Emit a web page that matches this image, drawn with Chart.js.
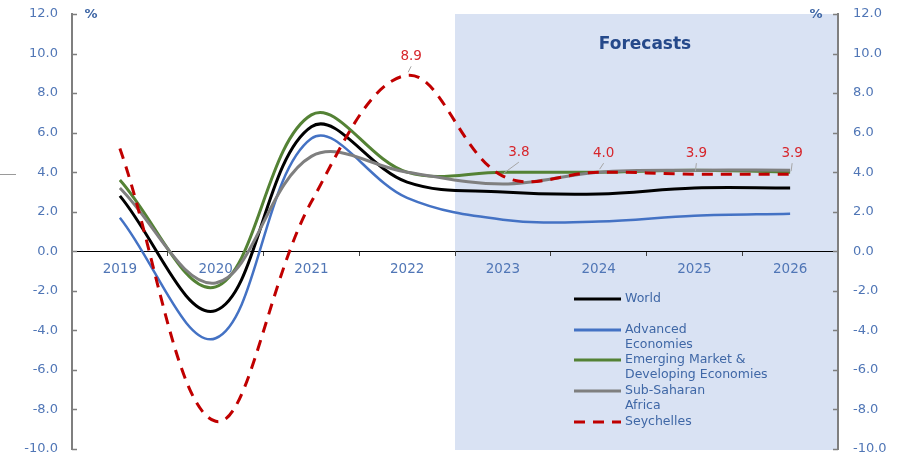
<!DOCTYPE html>
<html>
<head>
<meta charset="utf-8">
<script src="https://cdn.jsdelivr.net/npm/chart.js@4/dist/chart.umd.min.js"></script>
<style>
  html, body { margin: 0; padding: 0; background: #fff; }
</style>
</head>
<body>
<canvas id="myChart" width="907" height="459"></canvas>
<script>
const years = ['2019', '2020', '2021', '2022', '2023', '2024', '2025', '2026'];
const world = [2.8, -3.0, 6.3, 3.5, 3.0, 2.9, 3.2, 3.2];
const advanced = [1.7, -4.4, 5.7, 2.7, 1.6, 1.5, 1.8, 1.9];
const emerging = [3.6, -1.8, 6.9, 4.0, 4.0, 4.0, 4.1, 4.0];
const ssa = [3.2, -1.6, 4.8, 4.0, 3.4, 4.0, 4.1, 4.1];
const seychelles = [5.2, -8.6, 2.5, 8.9, 3.8, 4.0, 3.9, 3.9];
const yTicks = [-10, -8, -6, -4, -2, 0, 2, 4, 6, 8, 10, 12];
const forecastFrom = '2023';
const labelledYears = ['2022', '2023', '2024', '2025', '2026'];

const legendText = [
    ['World'],
    ['Advanced', 'Economies'],
    ['Emerging Market &', 'Developing Economies'],
    ['Sub-Saharan', 'Africa'],
    ['Seychelles']
];

const FONT = 'DejaVu Sans';
const TICK_COL = '#5076B6';
const TEXT_COL = '#3F67A6';

// shaded forecast area, drawn before the axes
const shadePlugin = {
    id: 'shade',
    beforeDraw(chart) {
        const { ctx, chartArea, scales } = chart;
        const x0 = scales.x.getPixelForValue(years.indexOf(forecastFrom) - 0.5);
        ctx.save();
        ctx.fillStyle = '#D9E2F3';
        ctx.fillRect(x0, chartArea.top, chartArea.right - x0, chartArea.bottom - chartArea.top + 1);
        ctx.restore();
    }
};

// extra bits: inner ticks, % signs, Forecasts title, value labels, legend
const extrasPlugin = {
    id: 'extras',
    afterDraw(chart) {
        const { ctx, chartArea, scales } = chart;
        ctx.save();

        // inward tick marks on both value axes
        ctx.strokeStyle = '#7F7F7F';
        ctx.lineWidth = 1.5;
        scales.y.ticks.forEach(t => {
            const py = Math.round(scales.y.getPixelForValue(t.value)) + 0.5;
            ctx.beginPath();
            ctx.moveTo(chartArea.left, py);
            ctx.lineTo(chartArea.left + 5, py);
            ctx.moveTo(chartArea.right - 5, py);
            ctx.lineTo(chartArea.right, py);
            ctx.stroke();
        });

        // stray grey line at left edge
        ctx.strokeStyle = '#9A9A9A';
        ctx.lineWidth = 1;
        ctx.beginPath();
        ctx.moveTo(0, 174.5);
        ctx.lineTo(16, 174.5);
        ctx.stroke();

        // % signs
        ctx.fillStyle = TEXT_COL;
        ctx.font = 'bold 13px ' + FONT;
        ctx.textAlign = 'center';
        ctx.textBaseline = 'middle';
        ctx.fillText('%', 91, 15);
        ctx.fillText('%', 816, 15);

        // Forecasts title
        ctx.fillStyle = '#25498A';
        ctx.font = 'bold 17px ' + FONT;
        ctx.fillText('Forecasts', 645, 45);

        // Seychelles value labels with leader lines
        const meta = chart.getDatasetMeta(4);
        const offsets = [[4, -19], [16, -24], [5, -19], [2, -21], [2, -21]];
        ctx.font = '13.5px ' + FONT;
        labelledYears.forEach((yr, k) => {
            const i = years.indexOf(yr);
            const p = meta.data[i];
            const tx = p.x + offsets[k][0];
            const ty = p.y + offsets[k][1];
            ctx.strokeStyle = '#A6A6A6';
            ctx.lineWidth = 1;
            ctx.beginPath();
            ctx.moveTo(tx, ty + 10);
            ctx.lineTo(p.x + 1, p.y - 3);
            ctx.stroke();
            ctx.fillStyle = '#D7262C';
            ctx.fillText(seychelles[i].toFixed(1), tx, ty);
        });

        // legend
        const rows = [299, 330, 360, 391, 422];
        ctx.font = '12.5px ' + FONT;
        ctx.textAlign = 'left';
        chart.data.datasets.forEach((ds, k) => {
            const y = rows[k];
            ctx.strokeStyle = ds.borderColor;
            ctx.lineWidth = 3;
            ctx.setLineDash(ds.borderDash || []);
            ctx.beginPath();
            ctx.moveTo(574, y);
            ctx.lineTo(621, y);
            ctx.stroke();
            ctx.setLineDash([]);
            ctx.fillStyle = TEXT_COL;
            legendText[k].forEach((line, j) => {
                ctx.fillText(line, 625, y + j * 15);
            });
        });

        ctx.restore();
    }
};

function noPad(s) {
    s.paddingTop = 0;
    s.paddingBottom = 0;
    s.paddingLeft = 0;
    s.paddingRight = 0;
}

const ctx = document.getElementById('myChart').getContext('2d');

new Chart(ctx, {
    type: 'line',
    data: {
        labels: years,
        datasets: [
            { label: 'World', data: world, borderColor: '#000000', borderWidth: 3, order: 2 },
            { label: 'Advanced Economies', data: advanced, borderColor: '#4472C4', borderWidth: 2.5, order: 3 },
            { label: 'Emerging Market & Developing Economies', data: emerging, borderColor: '#548235', borderWidth: 3, order: 4 },
            { label: 'Sub-Saharan Africa', data: ssa, borderColor: '#7F7F7F', borderWidth: 3, order: 1 },
            { label: 'Seychelles', data: seychelles, borderColor: '#C00000', borderWidth: 3, borderDash: [11, 8], order: 0 }
        ]
    },
    options: {
        responsive: false,
        animation: false,
        layout: { padding: { top: 14, bottom: 10, left: 0, right: 0 } },
        elements: {
            point: { radius: 0 },
            line: { tension: 0.37, fill: false, borderCapStyle: 'butt' }
        },
        plugins: {
            legend: { display: false },
            tooltip: { enabled: false }
        },
        scales: {
            x: {
                position: { y: 0 },
                offset: true,
                grid: { offset: true, drawOnChartArea: false, drawTicks: true, tickLength: 4, color: '#404040' },
                border: { color: '#000000', width: 1 },
                ticks: { color: TICK_COL, font: { family: FONT, size: 13.5 }, padding: 6, maxRotation: 0 },
                afterFit(s) { s.height = 0; noPad(s); }
            },
            y: {
                position: 'left',
                min: -10,
                max: 12,
                afterBuildTicks(s) { s.ticks = yTicks.map(v => ({ value: v })); },
                grid: { drawOnChartArea: false, drawTicks: false },
                border: { color: '#7F7F7F', width: 2 },
                ticks: { color: TICK_COL, font: { family: FONT, size: 13 }, padding: 14,
                         callback: v => v.toFixed(1) },
                afterFit(s) { s.width = 72; noPad(s); }
            },
            y2: {
                position: 'right',
                min: -10,
                max: 12,
                afterBuildTicks(s) { s.ticks = yTicks.map(v => ({ value: v })); },
                grid: { drawOnChartArea: false, drawTicks: false },
                border: { color: '#7F7F7F', width: 2 },
                ticks: { color: TICK_COL, font: { family: FONT, size: 13 }, padding: 15,
                         callback: v => v.toFixed(1) },
                afterFit(s) { s.width = 69; noPad(s); }
            }
        }
    },
    plugins: [shadePlugin, extrasPlugin]
});
</script>
</body>
</html>
